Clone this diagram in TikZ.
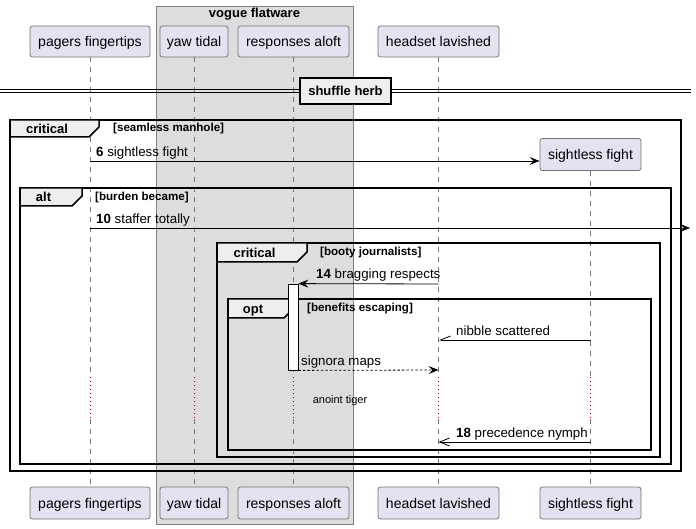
\documentclass[tikz,border=0pt]{standalone}
\usepackage{fontspec}
\setmainfont{Liberation Sans}
\usetikzlibrary{arrows.meta,calc}
\definecolor{partfill}{HTML}{E2E2F0}
\definecolor{boxfill}{HTML}{DDDDDD}
\definecolor{tabfill}{HTML}{EEEEEE}
\definecolor{delaycol}{HTML}{A80036}
\definecolor{lifecol}{HTML}{777777}
\begin{document}
\begin{tikzpicture}[x=1pt,y=-1pt,
  part/.style={draw=black!55, line width=0.8pt, fill=partfill, rounded corners=2.5pt, minimum height=31pt, inner sep=0pt, text height=12pt, text depth=1pt, font=\fontsize{14}{16}\selectfont},
  life/.style={draw=lifecol, line width=0.6pt, dash pattern=on 5pt off 5pt},
  delayline/.style={draw=delaycol, line width=1pt, dash pattern=on 1pt off 3pt},
  frameline/.style={draw=black, line width=1.5pt},
  tabshape/.style={fill=tabfill, draw=black, line width=1.5pt, line join=miter},
  flabel/.style={font=\bfseries\fontsize{13}{15}\selectfont, anchor=base, inner sep=0pt},
  guard/.style={font=\bfseries\fontsize{11.6}{13}\selectfont, anchor=base west, inner sep=0pt},
  msgtxt/.style={font=\fontsize{13.3}{15}\selectfont, anchor=base west, inner sep=0pt},
  msg/.style={draw=black, line width=0.8pt, -{Stealth[length=10pt,width=8pt,inset=4pt]}},
  dashmsg/.style={msg, dash pattern=on 2.5pt off 2pt},
  openmsg/.style={draw=black, line width=0.8pt, -{Straight Barb[length=10pt,width=8pt]}},
  halfmsg/.style={draw=black, line width=0.8pt, -{Straight Barb[length=10pt,width=8pt,right]}},
  actbox/.style={draw=black, line width=0.8pt, fill=white, minimum width=10pt, minimum height=86pt, inner sep=0pt}
]
\useasboundingbox (0,0) rectangle (696,529);
% box
\draw[draw=black!50, fill=boxfill, line width=0.8pt] (156,6) rectangle (353,524);
\node[font=\bfseries\fontsize{13}{15}\selectfont, anchor=base, inner sep=0pt] (boxtitle) at (254.5,17.5) {vogue flatware};
% participants
\node[part, minimum width=120pt] (pf) at (90,41.5) {pagers fingertips};
\node[part, minimum width=68pt] (yt) at (194,41.5) {yaw tidal};
\node[part, minimum width=111pt] (ra) at (293.5,41.5) {responses aloft};
\node[part, minimum width=121pt] (hl) at (438.5,41.5) {headset lavished};
\node[part, minimum width=101pt, minimum height=32pt] (sf) at (590.5,154.5) {sightless fight};
\node[part, minimum width=120pt, minimum height=32pt] (pfb) at (90,503) {pagers fingertips};
\node[part, minimum width=68pt, minimum height=32pt] (ytb) at (194,503) {yaw tidal};
\node[part, minimum width=111pt, minimum height=32pt] (rab) at (293.5,503) {responses aloft};
\node[part, minimum width=121pt, minimum height=32pt] (hlb) at (438.5,503) {headset lavished};
\node[part, minimum width=101pt, minimum height=32pt] (sfb) at (590.5,503) {sightless fight};
% lifelines
\foreach \a/\b in {pf/pfb, yt/ytb, ra/rab, hl/hlb, sf/sfb} {
  \draw[life] (\a.south) -- (\a.south |- 0,377);
  \draw[delayline] (\a.south |- 0,377) -- (\a.south |- 0,419);
  \draw[life] (\a.south |- 0,419) -- (\b.north);
}
% divider
\draw[line width=1pt] (0,90) -- (691,90);
\draw[line width=1pt] (0,93) -- (691,93);
\node[draw=black, line width=2pt, fill=tabfill, minimum width=91pt, minimum height=26pt, inner sep=0pt, font=\bfseries\fontsize{13}{15}\selectfont] (div) at (345.5,91) {shuffle herb};
% frames
\draw[frameline] (10,120) rectangle (681,471);
\draw[tabshape] (10,120) -- (99,120) -- (99,127) -- (89,137) -- (10,137) -- cycle;
\node[flabel] (f1l) at (47,134) {critical};
\node[guard] (f1g) at (113,132) {[seamless manhole]};
\draw[frameline] (20,188) rectangle (671,464);
\draw[tabshape] (20,188) -- (82,188) -- (82,196) -- (72,206) -- (20,206) -- cycle;
\node[flabel] (f2l) at (43.5,202) {alt};
\node[guard] (f2g) at (95,201) {[burden became]};
\draw[frameline] (217,243) rectangle (660,457);
\draw[tabshape] (217,243) -- (307,243) -- (307,252) -- (297,262) -- (217,262) -- cycle;
\node[flabel] (f3l) at (254.5,257.5) {critical};
\node[guard] (f3g) at (320,256) {[booty journalists]};
\draw[frameline] (228,299) rectangle (651,450);
\draw[tabshape] (228,299) -- (294,299) -- (294,308) -- (284,318) -- (228,318) -- cycle;
\node[flabel] (f4l) at (253,313) {opt};
\node[guard] (f4g) at (307,312) {[benefits escaping]};
% activation
\node[actbox] (act) at (293,327) {};
% messages
\draw[msg] (pf.south |- 0,161) -- (sf.west |- 0,161);
\node[msgtxt] (l6) at (96,157) {\textbf{6} sightless fight};
\coordinate (edge10) at (690,228);
\draw[msg] (pf.south |- 0,228) -- (edge10);
\node[msgtxt] (l10) at (96,224) {\textbf{10} staffer totally};
\draw[msg] (hl.south |- 0,284) -- (act.north east);
\node[msgtxt] (l14) at (316,279) {\textbf{14} bragging respects};
\draw[halfmsg] (sf.south |- 0,340) -- (hl.south |- 0,340);
\node[msgtxt] (lnib) at (456,335.5) {nibble scattered};
\draw[dashmsg] (act.south east) -- (hl.south |- 0,370);
\node[msgtxt] (lsig) at (301,365.5) {signora maps};
\node[font=\fontsize{11}{13}\selectfont, anchor=base, inner sep=0pt] (dly) at (340,403) {anoint tiger};
\draw[openmsg] (sf.south |- 0,442) -- (hl.south |- 0,442);
\node[msgtxt] (l18) at (456,437.5) {\textbf{18} precedence nymph};
\end{tikzpicture}
\end{document}
